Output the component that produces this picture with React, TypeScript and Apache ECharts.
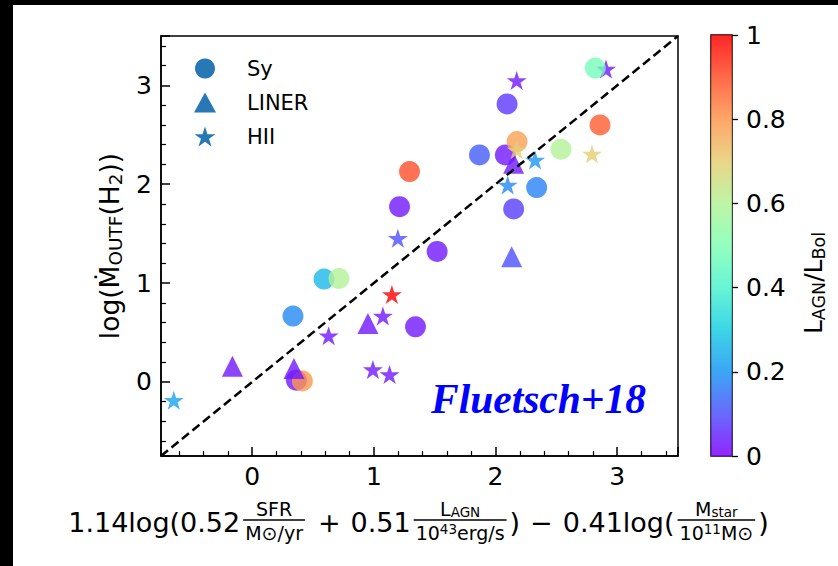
import React, { useEffect, useRef } from "react";
import * as echarts from "echarts";

// ---- data ----
const xRange = [-0.75, 3.5];
const yRange = [-0.75, 3.5];
const oneToOne = [-0.75, 3.5];
const colorbarTicks = [0, 0.2, 0.4, 0.6, 0.8, 1];

// Seyfert galaxies (circles)
const syX = [1.293, 1.211, 2.095, 2.82, 2.859, 2.081, 2.177, 1.868, 2.538, 2.338, 2.149, 1.52, 1.342, 0.59, 0.713, 0.335, 0.363, 0.412];
const syY = [2.128, 1.773, 2.813, 3.175, 2.6, 2.297, 2.432, 2.297, 2.354, 1.966, 1.75, 1.32, 0.557, 1.04, 1.047, 0.666, 0.017, 0.01];
const syAgn = [0.9, 0.03, 0.07, 0.48, 0.88, 0.03, 0.78, 0.12, 0.6, 0.17, 0.08, 0.03, 0.03, 0.26, 0.6, 0.18, 0.03, 0.8];

// LINERs (triangles)
const linerX = [2.149, 2.133, 0.951, -0.163, 0.343];
const linerY = [2.213, 1.267, 0.59, 0.159, 0.136];
const linerAgn = [0.03, 0.1, 0.03, 0.03, 0.03];

// HII galaxies (stars) — one drawn behind the circles
const hiiBackX = [2.908];
const hiiBackY = [3.165];
const hiiBackAgn = [0.03];
const hiiX = [1.197, 2.174, 2.174, 2.325, 2.793, 2.1, 1.148, 1.074, 0.628, 0.992, 1.129, -0.645];
const hiiY = [1.453, 3.05, 2.348, 2.246, 2.307, 1.993, 0.885, 0.666, 0.466, 0.126, 0.075, -0.185];
const hiiAgn = [0.1, 0.03, 0.7, 0.2, 0.7, 0.18, 1.0, 0.03, 0.03, 0.03, 0.03, 0.22];

const legendNames = ["Sy", "LINER", "HII"];
const annotation = "Fluetsch+18";

// matplotlib "rainbow" colormap samples
const rainbow = ["#8000ff", "#4d4ffc", "#1a96f2", "#1acee3", "#4df3ce", "#80ffb4", "#b3f396", "#e6ce74", "#ff964f", "#ff4f28", "#ff0000"];

const STAR = "path://M100,0L77.55,69.1L4.9,69.1L63.7,111.8L41.2,180.9L100,138.2L158.8,180.9L136.3,111.8L195.1,69.1L122.45,69.1Z";
const FONT = "DejaVu Sans";

function buildXLabel() {
  const canvas = document.createElement("canvas");
  const ctx = canvas.getContext("2d")!;
  const mw = (t: string, s: number) => {
    ctx.font = `${s}px "${FONT}"`;
    return ctx.measureText(t).width;
  };
  const F = 27, S = 19, SS = 13.5;
  const sizes: any = { s: S, sub: SS, sup: SS };
  const rich = {
    s: { fontSize: S, fontFamily: FONT, fill: "#000", lineHeight: 21 },
    sub: { fontSize: SS, fontFamily: FONT, fill: "#000", lineHeight: 13, verticalAlign: "bottom" },
    sup: { fontSize: SS, fontFamily: FONT, fill: "#000", lineHeight: 13, verticalAlign: "top" },
  };
  const mainY = 522, barY = 520;
  const els: any[] = [];
  let cx = 0;
  const addMain = (t: string) => {
    els.push({ type: "text", x: cx, y: mainY, style: { text: t, fontSize: F, fontFamily: FONT, fill: "#000", align: "left", verticalAlign: "middle" } });
    cx += mw(t, F);
  };
  const rt = (toks: [string, string][]) => ({
    text: toks.map(([k, t]) => `{${k}|${t}}`).join(""),
    width: toks.reduce((a, [k, t]) => a + mw(t, sizes[k]), 0),
  });
  const addFrac = (num: [string, string][], den: [string, string][]) => {
    cx += 3;
    const n = rt(num), d = rt(den);
    const w = Math.max(n.width, d.width) + 4;
    const c = cx + w / 2;
    els.push({ type: "line", shape: { x1: cx, y1: barY, x2: cx + w, y2: barY }, style: { stroke: "#000", lineWidth: 1.3 } });
    els.push({ type: "text", x: c, y: barY - 1, style: { text: n.text, rich, align: "center", verticalAlign: "bottom" } });
    els.push({ type: "text", x: c, y: barY + 2, style: { text: d.text, rich, align: "center", verticalAlign: "top" } });
    cx += w + 3;
  };
  const gap = (g: number) => { cx += g; };
  addMain("1.14log(0.52");
  addFrac([["s", "SFR"]], [["s", "M\u2299/yr"]]);
  gap(10); addMain("+"); gap(10);
  addMain("0.51");
  addFrac([["s", "L"], ["sub", "AGN"]], [["s", "10"], ["sup", "43"], ["s", "erg/s"]]);
  addMain(")"); gap(10); addMain("\u2212"); gap(10); addMain("0.41log(");
  addFrac([["s", "M"], ["sub", "star"]], [["s", "10"], ["sup", "11"], ["s", "M\u2299"]]);
  addMain(")");
  return { type: "group", x: 418.5 - cx / 2, y: 0, children: els };
}

export default function App() {
  const ref = useRef<HTMLDivElement>(null);
  useEffect(() => {
    if (!ref.current) return;
    const chart = echarts.init(ref.current, undefined, { renderer: "svg" });
    const pts = (xs: number[], ys: number[], cs: number[]) => xs.map((x, i) => [x, ys[i], cs[i]]);
    const scatter = (name: string, data: any[], symbol: string, size: number) => ({
      type: "scatter", name, xAxisIndex: 0, yAxisIndex: 0, data, symbol, symbolSize: size,
      symbolKeepAspect: true, itemStyle: { opacity: 0.8 }, emphasis: { disabled: true }, silent: true,
    });
    const axisCommon = {
      axisLine: { show: true, onZero: false, lineStyle: { color: "#000", width: 1.5 } },
      axisTick: { show: true, inside: true, length: 9, lineStyle: { color: "#000", width: 1.5 } },
      minorTick: { show: true, splitNumber: 5, length: 5, lineStyle: { color: "#000", width: 1.2 } },
      splitLine: { show: false },
      minorSplitLine: { show: false },
    };
    const intLabel = (v: number) => (Math.abs(v - Math.round(v)) < 1e-9 ? String(Math.round(v)) : "");
    const stops = rainbow.map((c, i) => ({ offset: i / (rainbow.length - 1), color: c }));
    const legendColor = "#2778b5";

    const option: any = {
      animation: false,
      backgroundColor: "#fff",
      grid: [
        { left: 161, top: 36, width: 517, height: 420, show: true, borderColor: "#000", borderWidth: 1.5, backgroundColor: "transparent", outerBoundsMode: "none", containLabel: false },
        { left: 711, top: 35, width: 21, height: 421, show: true, borderColor: "#000", borderWidth: 1.5, backgroundColor: "transparent", outerBoundsMode: "none", containLabel: false },
      ],
      xAxis: [
        { type: "value", gridIndex: 0, min: xRange[0], max: xRange[1], ...axisCommon,
          axisLabel: { fontSize: 25, fontFamily: FONT, color: "#000", margin: 8, showMinLabel: false, showMaxLabel: false, formatter: intLabel } },
        { type: "category", gridIndex: 1, data: ["c"], show: false },
      ],
      yAxis: [
        { type: "value", gridIndex: 0, min: yRange[0], max: yRange[1], ...axisCommon,
          name: "{m|log(\u1E40}{s|OUTF}{m|(H}{s|2}{m|))}", nameLocation: "middle", nameGap: 30, nameRotate: 90,
          nameTextStyle: { rich: {
            m: { fontSize: 26.5, fontFamily: FONT, color: "#000", lineHeight: 31 },
            s: { fontSize: 18.5, fontFamily: FONT, color: "#000", lineHeight: 17, verticalAlign: "bottom" },
          } },
          axisLabel: { fontSize: 25, fontFamily: FONT, color: "#000", margin: 9, showMinLabel: false, showMaxLabel: false, formatter: intLabel } },
        { type: "value", gridIndex: 1, min: colorbarTicks[0], max: colorbarTicks[colorbarTicks.length - 1], interval: 0.2, position: "right",
          axisLine: { show: false }, splitLine: { show: false },
          axisTick: { show: true, inside: false, length: 6, lineStyle: { color: "#000", width: 1.3 } },
          axisLabel: { fontSize: 25, fontFamily: FONT, color: "#000", margin: 14,
            formatter: (v: number) => (v === 0 || v === 1 ? String(v) : v.toFixed(1)) } },
      ],
      visualMap: {
        type: "continuous", show: false, min: 0, max: 1, dimension: 2, seriesIndex: [0, 1, 2, 3],
        inRange: { color: rainbow },
      },
      legend: {
        orient: "vertical", left: 189, top: 53, itemWidth: 22, itemHeight: 20, itemGap: 13,
        selectedMode: false, symbolKeepAspect: true,
        textStyle: { fontSize: 21, fontFamily: FONT, color: "#000", lineHeight: 20, padding: [0, 0, 0, 26] },
        data: [
          { name: legendNames[0], icon: "circle", itemStyle: { color: legendColor, opacity: 1 } },
          { name: legendNames[1], icon: "triangle", itemStyle: { color: legendColor, opacity: 1 } },
          { name: legendNames[2], icon: STAR, itemStyle: { color: legendColor, opacity: 1 } },
        ],
      },
      series: [
        scatter(legendNames[2], pts(hiiBackX, hiiBackY, hiiBackAgn), STAR, 20),
        scatter(legendNames[0], pts(syX, syY, syAgn), "circle", 21),
        scatter(legendNames[1], pts(linerX, linerY, linerAgn), "triangle", 21),
        scatter(legendNames[2], pts(hiiX, hiiY, hiiAgn), STAR, 20),
        {
          type: "line", name: "1:1", xAxisIndex: 0, yAxisIndex: 0, data: oneToOne.map((v) => [v, v]),
          symbol: "none", silent: true, z: 3,
          lineStyle: { color: "#000", width: 2.5, type: [9, 4.5] }, itemStyle: { color: "#000" },
        },
        {
          type: "bar", xAxisIndex: 1, yAxisIndex: 1, data: [1], barWidth: "100%", silent: true,
          itemStyle: { color: new echarts.graphic.LinearGradient(0, 1, 0, 0, stops), opacity: 0.85 },
        },
      ],
      graphic: [
        { type: "rect", shape: { x: 0, y: 0, width: 838, height: 5 }, style: { fill: "#000" } },
        { type: "rect", shape: { x: 0, y: 0, width: 13, height: 566 }, style: { fill: "#000" } },
        { type: "text", x: 538.5, y: 399, style: { text: annotation, fontSize: 41.5, fontFamily: "Liberation Serif", fontWeight: "bold", fontStyle: "italic", fill: "#0000ff", align: "center", verticalAlign: "middle" } },
        { type: "text", x: 813, y: 283, rotation: Math.PI / 2, style: {
          text: "{a|L}{b|AGN}{a|/L}{b|Bol}", align: "center", verticalAlign: "middle",
          rich: {
            a: { fontSize: 25, fontFamily: FONT, fill: "#000", lineHeight: 30 },
            b: { fontSize: 17.5, fontFamily: FONT, fill: "#000", lineHeight: 16, verticalAlign: "bottom" },
          } } },
        buildXLabel(),
      ],
    };
    chart.setOption(option);
    return () => chart.dispose();
  }, []);
  return <div ref={ref} style={{ position: "absolute", left: 0, top: 0, width: 838, height: 566, background: "#fff" }} />;
}
